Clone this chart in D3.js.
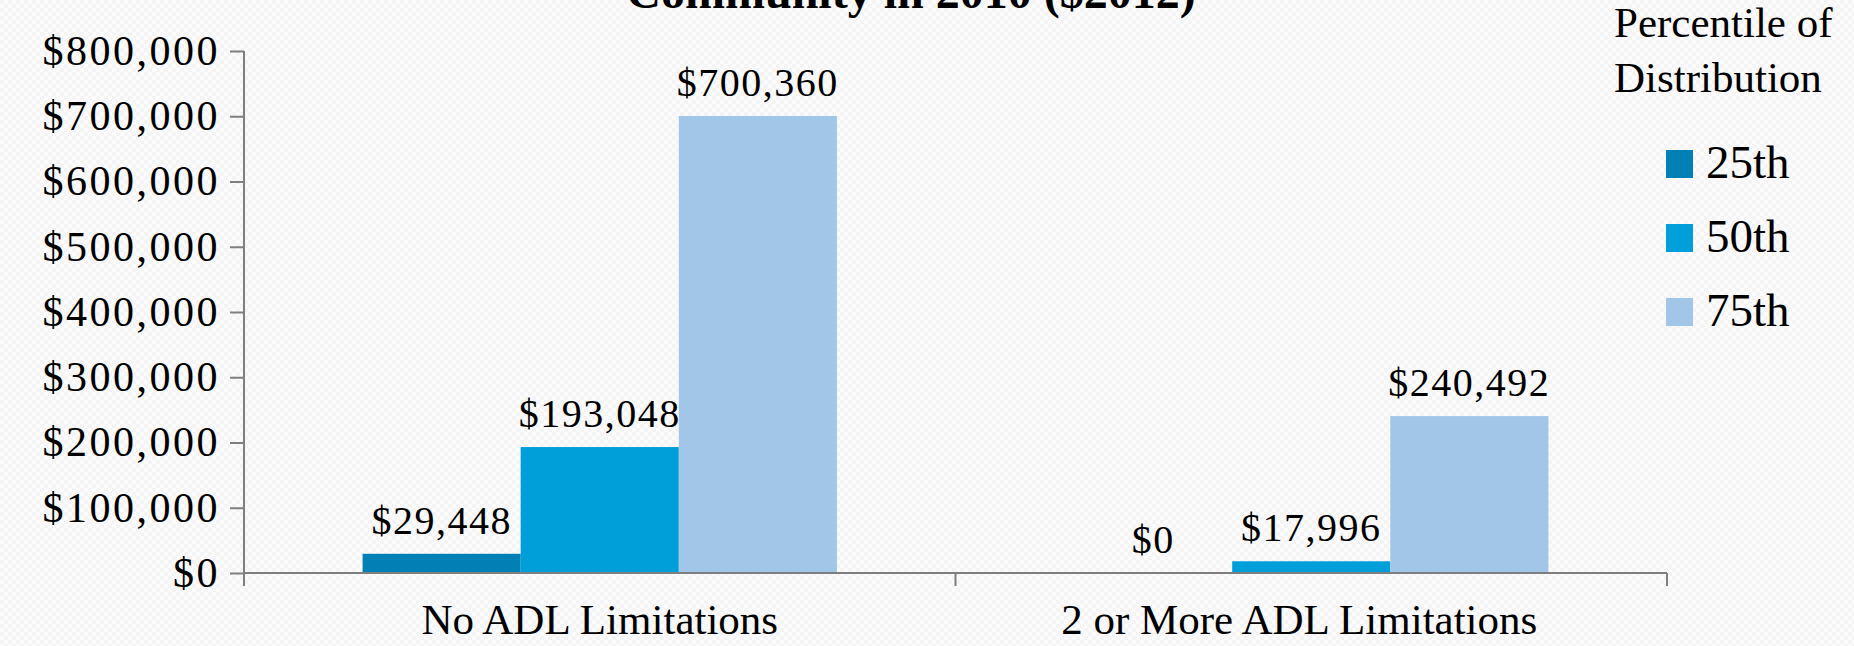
<!DOCTYPE html>
<html>
<head>
<meta charset="utf-8">
<script src="https://cdn.jsdelivr.net/npm/d3@7"></script>
<style>
  body { margin: 0; background: #fafafa; }
  text { font-family: "Liberation Serif", "Times New Roman", serif; fill: #000; }
</style>
</head>
<body>
<div id="chart"></div>
<script>
var categories = ["No ADL Limitations", "2 or More ADL Limitations"];
var series = ["25th", "50th", "75th"];
var values25 = [29448, 0];
var values50 = [193048, 17996];
var values75 = [700360, 240492];
var yTicks = [0, 100000, 200000, 300000, 400000, 500000, 600000, 700000, 800000];
var colors = ["#0080b4", "#009fda", "#a1c6e8"];

(function(){
  var width = 1854;
  var height = 646;

  var svg = d3.select("#chart")
    .append("svg")
    .attr("width", width)
    .attr("height", height);

  // faint textured background
  var pat = svg.append("defs").append("pattern")
    .attr("id", "bg")
    .attr("width", 8)
    .attr("height", 8)
    .attr("patternUnits", "userSpaceOnUse");
  pat.append("rect").attr("width", 8).attr("height", 8).attr("fill", "#fbfbfb");
  pat.append("rect").attr("width", 4).attr("height", 4).attr("fill", "#f4f4f4");
  pat.append("rect").attr("x", 4).attr("y", 4).attr("width", 4).attr("height", 4).attr("fill", "#f4f4f4");
  svg.append("rect").attr("width", width).attr("height", height).attr("fill", "url(#bg)");

  var rows = categories.map(function(c, i) {
    return { cat: c, vals: [values25[i], values50[i], values75[i]] };
  });

  var x0 = d3.scaleBand()
    .domain(categories)
    .range([244, 1667]);

  var x1 = d3.scaleBand()
    .domain(series)
    .range([0, x0.bandwidth()])
    .paddingOuter(0.75);

  var y = d3.scaleLinear()
    .domain([0, 800000])
    .range([573, 51]);

  var money = d3.format("$,");

  // title (first line is outside the picture, as in the source slide)
  svg.append("text")
    .attr("x", 911)
    .attr("y", 8)
    .attr("text-anchor", "middle")
    .style("font-size", "48px")
    .style("font-weight", "bold")
    .text("Community in 2010 ($2012)");

  // bars
  var groups = svg.selectAll(".grp")
    .data(rows)
    .enter()
    .append("g")
    .attr("class", "grp")
    .attr("transform", function(d) { return "translate(" + x0(d.cat) + ",0)"; });

  groups.selectAll("rect")
    .data(function(d) { return d.vals.map(function(v, j) { return { s: series[j], v: v, j: j }; }); })
    .enter()
    .append("rect")
    .attr("x", function(d) { return x1(d.s); })
    .attr("width", x1.bandwidth())
    .attr("y", function(d) { return y(d.v); })
    .attr("height", function(d) { return y(0) - y(d.v); })
    .attr("fill", function(d) { return colors[d.j]; });

  groups.selectAll(".lbl")
    .data(function(d) { return d.vals.map(function(v, j) { return { s: series[j], v: v }; }); })
    .enter()
    .append("text")
    .attr("class", "lbl")
    .attr("x", function(d) { return x1(d.s) + x1.bandwidth() / 2; })
    .attr("y", function(d) { return y(d.v) - 20; })
    .attr("text-anchor", "middle")
    .style("font-size", "40px")
    .style("letter-spacing", "1.5px")
    .text(function(d) { return money(d.v); });

  // y axis
  var y_axis = d3.axisLeft(y)
    .tickValues(yTicks)
    .tickFormat(money)
    .tickSize(14)
    .tickSizeOuter(0)
    .tickPadding(10);

  var gy = svg.append("g")
    .attr("transform", "translate(244,0)")
    .call(y_axis);
  gy.select(".domain").remove();
  gy.selectAll("line").attr("stroke", "#7f7f7f").attr("stroke-width", 2);
  gy.selectAll("text")
    .style("font-family", "'Liberation Serif', serif")
    .style("font-size", "42px")
    .style("letter-spacing", "2.5px")
    .attr("fill", "#000");

  // x axis line and boundary ticks
  var bounds = [x0(categories[0])].concat(categories.map(function(c) { return x0(c) + x0.bandwidth(); }));
  var gx = svg.append("g");
  gx.append("line")
    .attr("x1", 244).attr("x2", 244)
    .attr("y1", y(800000)).attr("y2", y(0) + 13)
    .attr("stroke", "#7f7f7f").attr("stroke-width", 2);
  gx.append("line")
    .attr("x1", bounds[0]).attr("x2", bounds[bounds.length - 1])
    .attr("y1", y(0)).attr("y2", y(0))
    .attr("stroke", "#7f7f7f").attr("stroke-width", 2);
  gx.selectAll(".tk")
    .data(bounds)
    .enter()
    .append("line")
    .attr("x1", function(d) { return d; }).attr("x2", function(d) { return d; })
    .attr("y1", y(0)).attr("y2", y(0) + 13)
    .attr("stroke", "#7f7f7f").attr("stroke-width", 2);

  svg.selectAll(".cat")
    .data(categories)
    .enter()
    .append("text")
    .attr("class", "cat")
    .attr("x", function(d) { return x0(d) + x0.bandwidth() / 2 - (d === categories[1] ? 12 : 0); })
    .attr("y", 634)
    .attr("text-anchor", "middle")
    .style("font-size", "43px")
    .text(function(d) { return d; });

  // legend
  svg.append("text")
    .attr("x", 1614)
    .attr("y", 37)
    .style("font-size", "43px")
    .text("Percentile of");
  svg.append("text")
    .attr("x", 1614)
    .attr("y", 92)
    .style("font-size", "43px")
    .text("Distribution");

  var leg = svg.selectAll(".leg")
    .data(series)
    .enter()
    .append("g")
    .attr("class", "leg")
    .attr("transform", function(d, i) { return "translate(1666," + (150 + i * 74) + ")"; });
  leg.append("rect")
    .attr("width", 27)
    .attr("height", 28)
    .attr("fill", function(d, i) { return colors[i]; });
  leg.append("text")
    .attr("x", 40)
    .attr("y", 28)
    .style("font-size", "47px")
    .text(function(d) { return d; });
})();
</script>
</body>
</html>
